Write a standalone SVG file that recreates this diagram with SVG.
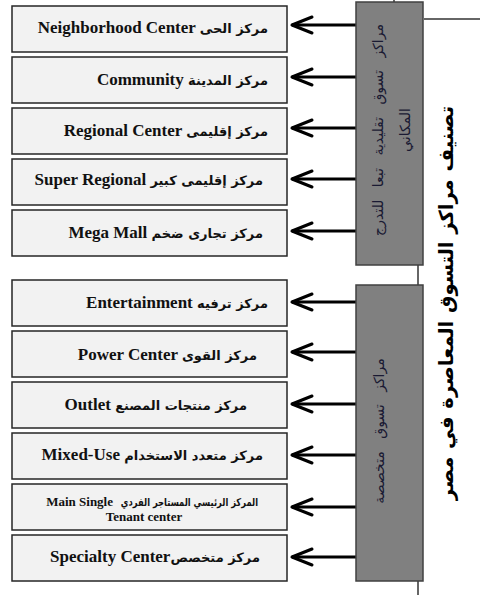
<svg xmlns="http://www.w3.org/2000/svg" width="480" height="595" viewBox="0 0 480 595">
<style>
.box{fill:#f2f2f2;stroke:#262626;stroke-width:1.5}
.gbox{fill:#808080;stroke:#404040;stroke-width:1.5}
.lbl{font-family:"Liberation Serif","Times New Roman",serif;font-weight:bold;font-size:17px;fill:#111}
.ar{font-family:"DejaVu Sans",sans-serif;font-weight:bold;font-size:13px}
.gt{font-family:"DejaVu Sans",sans-serif;font-size:14px;fill:#1a1a33}
.title{font-family:"DejaVu Sans",sans-serif;font-weight:bold;font-size:19.5px;fill:#000}
.arrow{stroke:#000;stroke-width:3;fill:none;marker-end:url(#open)}
.thin{stroke:#333;stroke-width:1.5;fill:none}
</style>
<defs>
<marker id="open" markerUnits="userSpaceOnUse" markerWidth="26" markerHeight="22" viewBox="0 0 26 22" refX="23" refY="11" orient="auto">
<path d="M3,3 L23,11 L3,19" fill="none" stroke="#000" stroke-width="3" stroke-linejoin="round" stroke-linecap="round"/>
</marker>
</defs>
<rect width="480" height="595" fill="#fff"/>

<g id="connectors">
<line class="arrow" x1="356" y1="25" x2="292" y2="25"/>
<line class="arrow" x1="356" y1="77" x2="292" y2="77"/>
<line class="arrow" x1="356" y1="128" x2="292" y2="128"/>
<line class="arrow" x1="356" y1="179" x2="292" y2="179"/>
<line class="arrow" x1="356" y1="231" x2="292" y2="231"/>
<line class="arrow" x1="356" y1="302" x2="292" y2="302"/>
<line class="arrow" x1="356" y1="352" x2="292" y2="352"/>
<line class="arrow" x1="356" y1="404" x2="292" y2="404"/>
<line class="arrow" x1="356" y1="455" x2="292" y2="455"/>
<line class="arrow" x1="356" y1="507" x2="292" y2="507"/>
<line class="arrow" x1="356" y1="557" x2="292" y2="557"/>
<line class="thin" x1="394" y1="0" x2="394" y2="2"/>
<line class="thin" x1="424" y1="19" x2="480" y2="19"/>
<line class="thin" x1="418" y1="265" x2="418" y2="285"/>
<line class="thin" x1="418" y1="581" x2="418" y2="595"/>
</g>

<g id="n1"><rect class="box" x="12" y="6" width="275" height="46"/>
<text class="lbl" x="268" y="33" text-anchor="end">Neighborhood Center <tspan class="ar">مركز الحى</tspan></text></g>
<g id="n2"><rect class="box" x="12" y="57" width="275" height="46"/>
<text class="lbl" x="268" y="85" text-anchor="end">Community <tspan class="ar">مركز المدينة</tspan></text></g>
<g id="n3"><rect class="box" x="12" y="108" width="275" height="46"/>
<text class="lbl" x="268" y="136" text-anchor="end">Regional Center <tspan class="ar">مركز إقليمى</tspan></text></g>
<g id="n4"><rect class="box" x="12" y="159" width="275" height="46"/>
<text class="lbl" x="263" y="185" text-anchor="end">Super Regional <tspan class="ar">مركز إقليمى كبير</tspan></text></g>
<g id="n5"><rect class="box" x="12" y="210" width="275" height="46"/>
<text class="lbl" x="263" y="238" text-anchor="end">Mega Mall <tspan class="ar">مركز تجارى ضخم</tspan></text></g>

<g id="n6"><rect class="box" x="12" y="280" width="275" height="46"/>
<text class="lbl" x="268" y="308" text-anchor="end">Entertainment <tspan class="ar">مركز ترفيه</tspan></text></g>
<g id="n7"><rect class="box" x="12" y="331" width="275" height="46"/>
<text class="lbl" x="257" y="360" text-anchor="end">Power Center <tspan class="ar">مركز القوى</tspan></text></g>
<g id="n8"><rect class="box" x="12" y="382" width="275" height="46"/>
<text class="lbl" x="247" y="410" text-anchor="end">Outlet <tspan class="ar">مركز منتجات المصنع</tspan></text></g>
<g id="n9"><rect class="box" x="12" y="433" width="275" height="46"/>
<text class="lbl" x="263" y="460" text-anchor="end">Mixed-Use <tspan class="ar">مركز متعدد الاستخدام</tspan></text></g>
<g id="n10"><rect class="box" x="12" y="484" width="275" height="46"/>
<text class="lbl" x="113" y="506" text-anchor="end" style="font-size:13px">Main Single</text>
<text class="lbl ar" transform="translate(258,506) scale(0.76,1)" text-anchor="end" style="font-size:11px">المركز الرئيسي المستاجر الفردي</text>
<text class="lbl" x="144" y="521" text-anchor="middle" style="font-size:13px">Tenant center</text></g>
<g id="n11"><rect class="box" x="12" y="535" width="275" height="46"/>
<text class="lbl" x="260" y="562" text-anchor="end">Specialty Center<tspan class="ar">مركز متخصص</tspan></text></g>

<g id="traditional"><rect class="gbox" x="356" y="2" width="67" height="263"/>
<text class="gt" transform="translate(378,130) rotate(-90)" text-anchor="middle" dominant-baseline="central" word-spacing="8">مراكز تسوق تقليدية تبعا للتدرج</text>
<text class="gt" transform="translate(405,130) rotate(-90)" text-anchor="middle" dominant-baseline="central">المكاني</text></g>
<g id="specialized"><rect class="gbox" x="356" y="285" width="67" height="296"/>
<text class="gt" transform="translate(379,431) rotate(-90)" text-anchor="middle" dominant-baseline="central" word-spacing="8">مراكز تسوق متخصصة</text></g>

<g id="title">
<text class="title" transform="translate(446,303) rotate(-90)" text-anchor="middle" dominant-baseline="central" word-spacing="1">تصنيف مراكز التسوق المعاصرة في مصر</text></g>
</svg>
